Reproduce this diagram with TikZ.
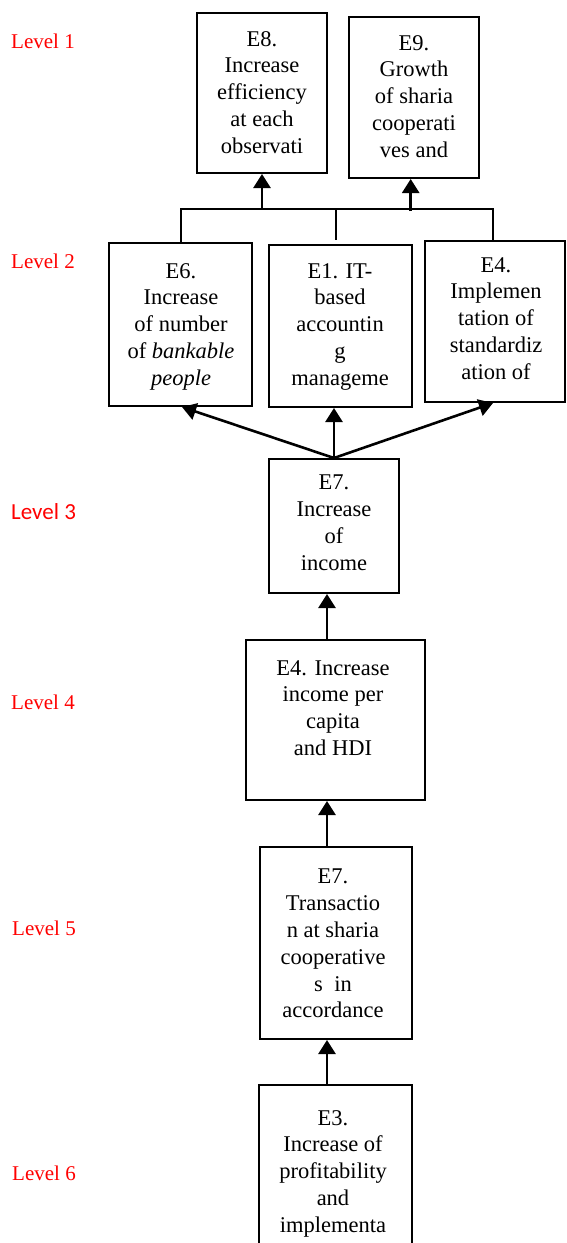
\documentclass[tikz,border=0pt]{standalone}
\usepackage{fontspec}
\setmainfont{Liberation Serif}
\newfontfamily\calib{Carlito}
\usetikzlibrary{arrows.meta}
\begin{document}
\begin{tikzpicture}[x=1pt,y=-1pt,
  box/.style={draw, line width=2pt, inner sep=0pt, rectangle},
  txt/.style={inner sep=0pt, anchor=north, align=center,
    font=\fontsize{22.5pt}{26.8pt}\selectfont},
  lvl/.style={inner sep=0pt, anchor=west, text=red,
    font=\fontsize{21pt}{25pt}\selectfont},
  lnk/.style={line width=2pt},
  arr/.style={line width=2.6pt, -{Triangle[length=14pt,width=17pt]}}]
\clip (0,0) rectangle (566,1243);
\fill[white] (0,0) rectangle (566,1243);
% level labels
\node[lvl] (l1) at (11,41) {Level 1};
\node[lvl] (l2) at (11,261) {Level 2};
\node[lvl, font=\calib\fontsize{23pt}{26pt}\selectfont] (l3) at (11,512) {Level 3};
\node[lvl] (l4) at (11,702) {Level 4};
\node[lvl] (l5) at (12,928) {Level 5};
\node[lvl] (l6) at (12,1173) {Level 6};
% boxes
\node[box, minimum width=130pt, minimum height=160pt] (e8) at (262,93) {};
\node[box, minimum width=130pt, minimum height=161pt] (e9) at (414,97.5) {};
\node[box, minimum width=143pt, minimum height=163pt] (e6) at (180.5,324.5) {};
\node[box, minimum width=143pt, minimum height=162pt] (e1) at (340.5,326) {};
\node[box, minimum width=140pt, minimum height=161pt] (e4a) at (495,321.5) {};
\node[box, minimum width=130pt, minimum height=134pt] (e7a) at (334,526) {};
\node[box, minimum width=179pt, minimum height=160pt] (e4b) at (335.5,720) {};
\node[box, minimum width=152pt, minimum height=192pt] (e7b) at (336,943) {};
\node[box, minimum width=153pt, minimum height=215pt] (e3) at (335.5,1192.5) {};
\draw[line width=1.2pt] (109,309) -- (109,406);
% texts
\node[txt] (t8) at (262,31) {E8.\\Increase\\efficiency\\at each\\observati};
\node[txt] (t9) at (414,35) {E9.\\Growth\\of sharia\\cooperati\\ves and};
\node[txt] (t6) at (181,263) {E6.\\Increase\\of number\\of \textit{bankable}\\\textit{people}};
\node[txt] (t1) at (340,263) {E1. IT-\\based\\accountin\\g\\manageme};
\node[txt] (t4a) at (496,257) {E4.\\Implemen\\tation of\\standardiz\\ation of};
\node[txt] (t7a) at (334,475) {E7.\\Increase\\of\\income};
\node[txt] (t4b) at (333,660) {E4. Increase\\income per\\capita\\and HDI};
\node[txt] (t7b) at (333,869) {E7.\\Transactio\\n at sharia\\cooperative\\s~~in\\accordance};
\node[txt] (t3) at (333,1110) {E3.\\Increase of\\profitability\\and\\implementa};
% bus between level 2 and level 1
\coordinate (busL) at (181,209);
\coordinate (busR) at (493,209);
\coordinate (midT) at (336,209);
\coordinate (midB) at (336,240);
\coordinate (a9) at (410.7,211);
\draw[lnk] (e6.north) -- (e6.north |- busL) -- (busR) -- (busR |- e4a.north);
\draw[lnk] (midT) -- (midB);
\draw[arr] (e8.south |- busL) -- (e8.south);
\draw[arr] (a9) -- (a9 |- e9.south);
% level 3 to level 2
\draw[arr] (e7a.north) -- ([xshift=1.5pt]e6.south);
\draw[arr] (e7a.north) -- (e7a.north |- e1.south);
\draw[arr] (e7a.north) -- ([xshift=-2pt]e4a.south);
% vertical chain
\coordinate (vx) at (327,0);
\draw[arr] (vx |- e4b.north) -- (vx |- e7a.south);
\draw[arr] (vx |- e7b.north) -- (vx |- e4b.south);
\draw[arr] (vx |- e3.north) -- (vx |- e7b.south);
\end{tikzpicture}
\end{document}
